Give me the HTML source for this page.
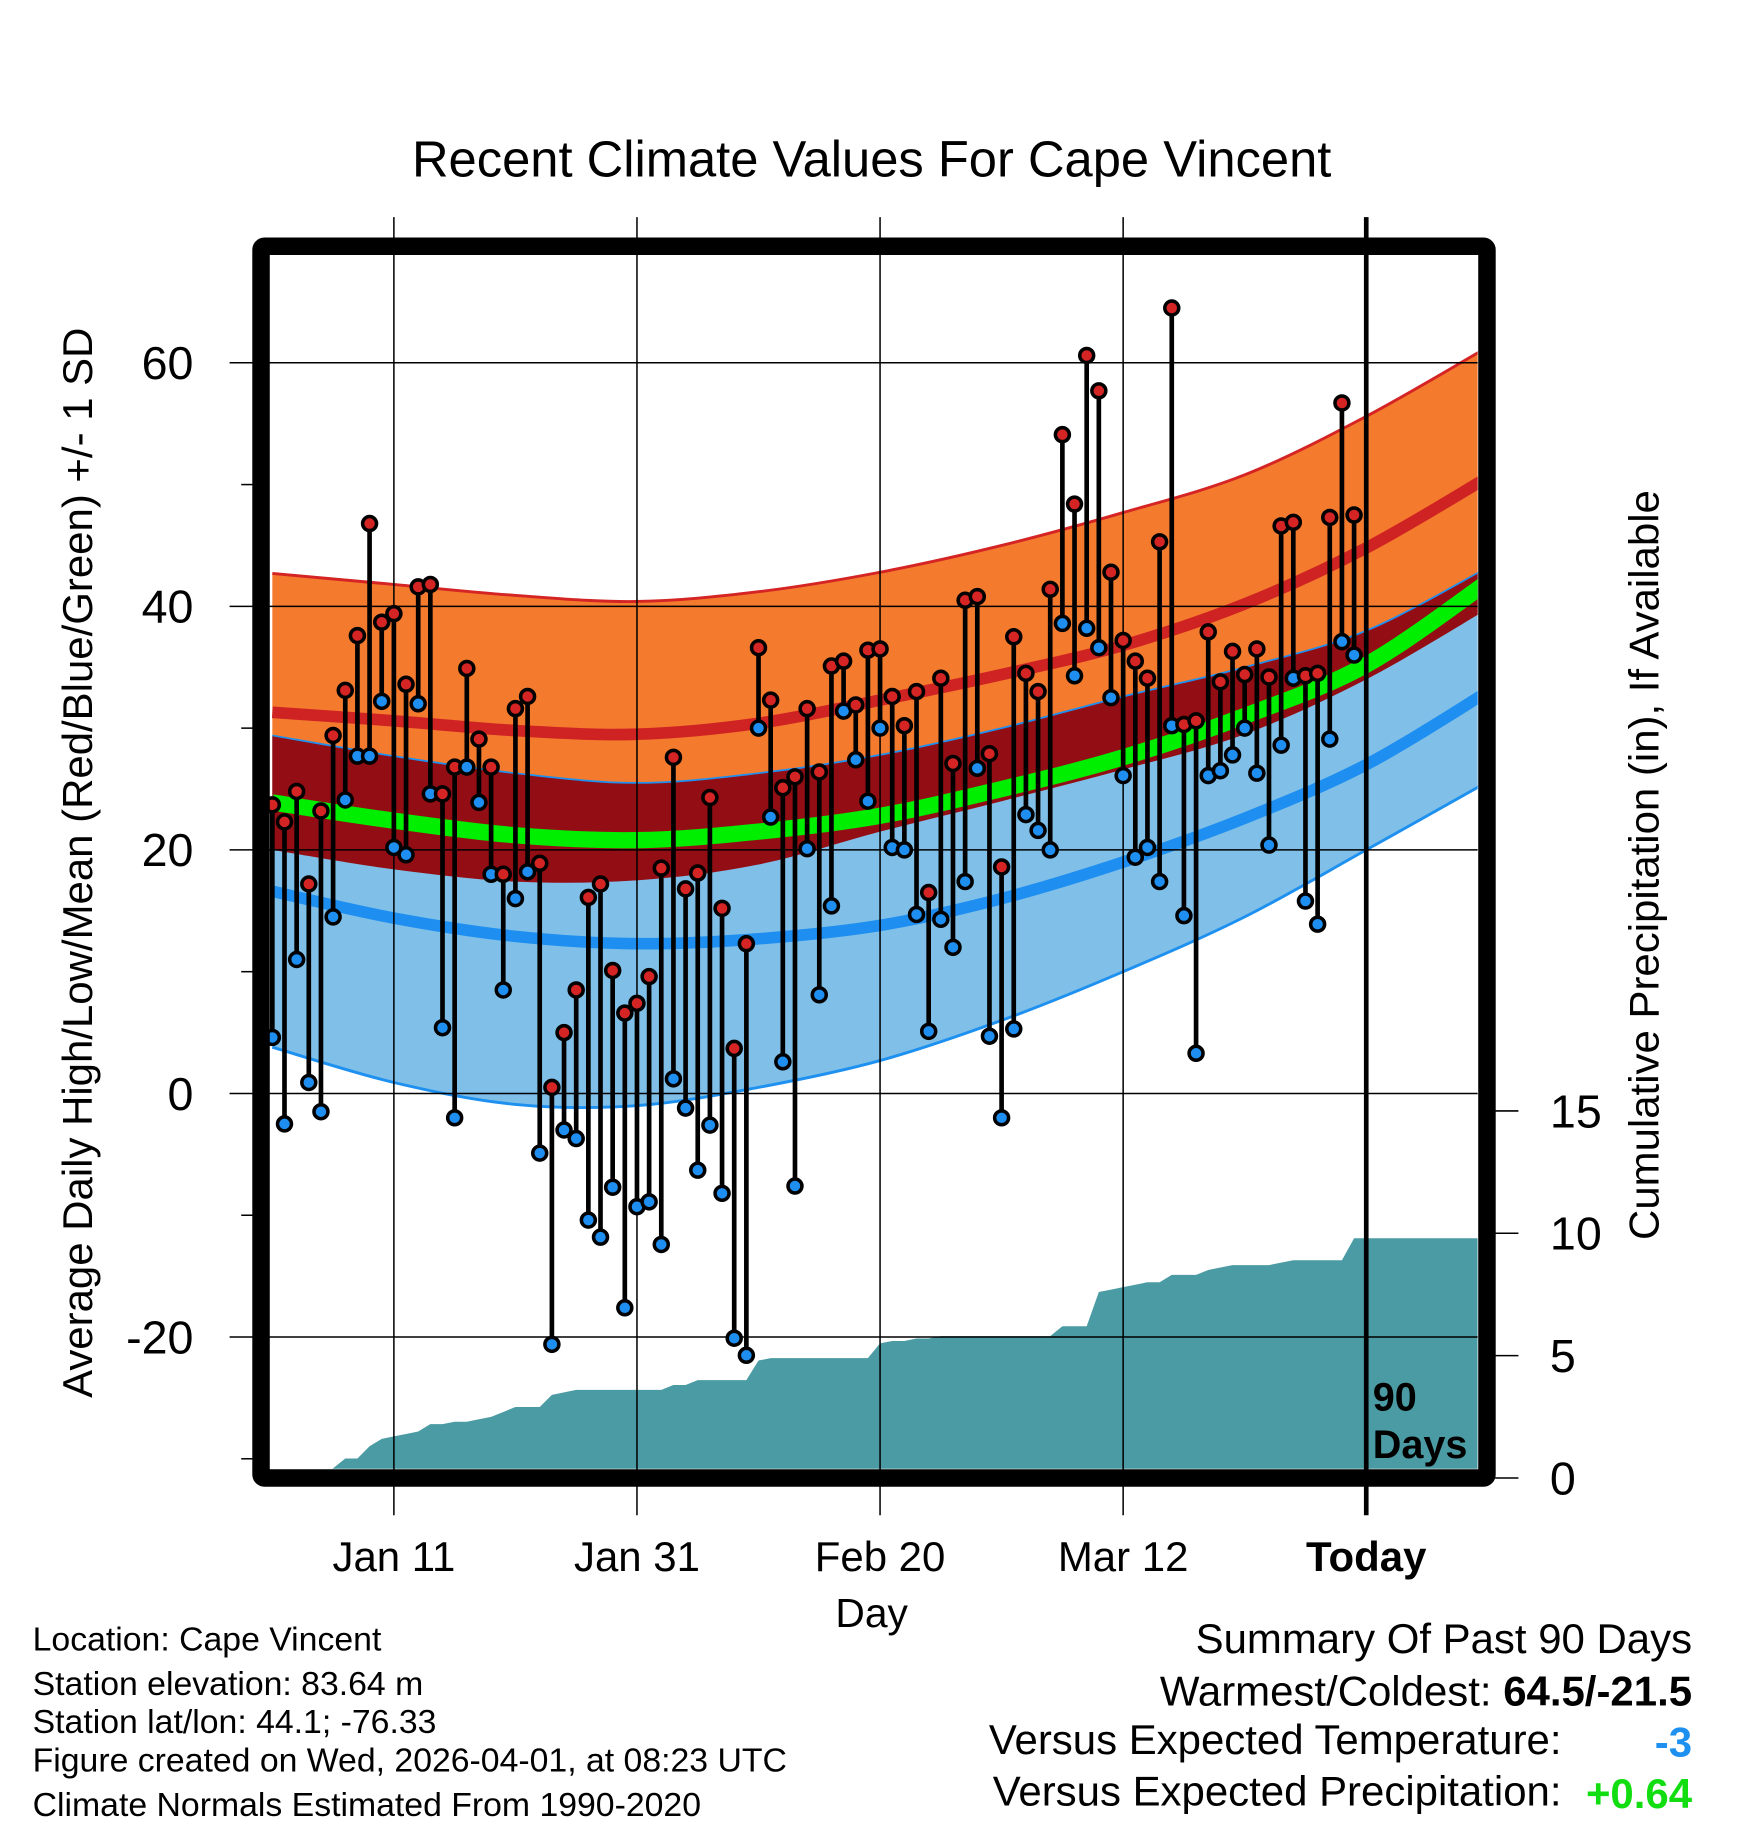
<!DOCTYPE html>
<html><head><meta charset="utf-8"><style>
html,body{margin:0;padding:0;background:#fff}
svg{display:block}
text{font-family:"Liberation Sans",sans-serif;fill:#000}
</style></head><body>
<svg id="chart" width="1748" height="1828" viewBox="0 0 1500 1568" xmlns="http://www.w3.org/2000/svg">
<text x="748" y="151" font-size="43.5" text-anchor="middle">Recent Climate Values For Cape Vincent</text>
<defs><clipPath id="plotclip"><rect x="231" y="218" width="1037" height="1042"/></clipPath></defs>
<g id="bands" clip-path="url(#plotclip)"></g>
<g id="grid"></g>
<g id="marks" clip-path="url(#plotclip)"></g>
<rect x="224" y="211" width="1052" height="1057" fill="none" stroke="#000" stroke-width="15" rx="3"/>
<g id="axes"></g>
<text transform="translate(79,740) rotate(-90)" font-size="36" text-anchor="middle">Average Daily High/Low/Mean (Red/Blue/Green) +/- 1 SD</text>
<text transform="translate(1423,742) rotate(-90)" font-size="36" text-anchor="middle">Cumulative Precipitation (in), If Available</text>
<text x="748" y="1396" font-size="35" text-anchor="middle">Day</text>
<g font-size="29">
<text x="28" y="1416">Location: Cape Vincent</text>
<text x="28" y="1454">Station elevation: 83.64 m</text>
<text x="28" y="1487">Station lat/lon: 44.1; -76.33</text>
<text x="28" y="1520">Figure created on Wed, 2026-04-01, at 08:23 UTC</text>
<text x="28" y="1558">Climate Normals Estimated From 1990-2020</text>
</g>
<g font-size="36">
<text x="1452" y="1418" text-anchor="end">Summary Of Past 90 Days</text>
<text x="1452" y="1463" text-anchor="end">Warmest/Coldest: <tspan font-weight="bold">64.5/-21.5</tspan></text>
<text x="1340" y="1505" text-anchor="end">Versus Expected Temperature:</text>
<text x="1452" y="1507" text-anchor="end" font-weight="bold" style="fill:#1e90f0">-3</text>
<text x="1340" y="1549" text-anchor="end">Versus Expected Precipitation:</text>
<text x="1452" y="1551" text-anchor="end" font-weight="bold" style="fill:#11dd11">+0.64</text>
</g>
</svg>
<script>
const highs=[23.7,22.3,24.8,17.2,23.2,29.4,33.1,37.6,46.8,38.7,39.4,33.6,41.6,41.8,24.6,26.8,34.9,29.1,26.8,18.0,31.6,32.6,18.9,0.5,5.0,8.5,16.1,17.2,10.1,6.6,7.4,9.6,18.5,27.6,16.8,18.1,24.3,15.2,3.7,12.3,36.6,32.3,25.1,26.0,31.6,26.4,35.1,35.5,31.9,36.4,36.5,32.6,30.2,33.0,16.5,34.1,27.1,40.5,40.8,27.9,18.6,37.5,34.5,33.0,41.4,54.1,48.4,60.6,57.7,42.8,37.2,35.5,34.1,45.3,64.5,30.3,30.6,37.9,33.8,36.3,34.4,36.5,34.2,46.6,46.9,34.3,34.5,47.3,56.7,47.5];
const lows=[4.6,-2.5,11.0,0.9,-1.5,14.5,24.1,27.7,27.7,32.2,20.2,19.6,32.0,24.6,5.4,-2.0,26.8,23.9,18.0,8.5,16.0,18.2,-4.9,-20.6,-3.0,-3.7,-10.4,-11.8,-7.7,-17.6,-9.3,-8.9,-12.4,1.2,-1.2,-6.3,-2.6,-8.2,-20.1,-21.5,30.0,22.7,2.6,-7.6,20.1,8.1,15.4,31.4,27.4,24.0,30.0,20.2,20.0,14.7,5.1,14.3,12.0,17.4,26.7,4.7,-2.0,5.3,22.9,21.6,20.0,38.6,34.3,38.2,36.6,32.5,26.1,19.4,20.2,17.4,30.2,14.6,3.3,26.1,26.5,27.8,30.0,26.3,20.4,28.6,34.1,15.8,13.9,29.1,37.1,36.0];
const precip=[0,0,0,0,0,0.4,0.8,0.8,1.3,1.6,1.7,1.8,1.9,2.2,2.2,2.3,2.3,2.4,2.5,2.7,2.9,2.9,2.9,3.4,3.5,3.6,3.6,3.6,3.6,3.6,3.6,3.6,3.6,3.8,3.8,4.0,4.0,4.0,4.0,4.0,4.8,4.9,4.9,4.9,4.9,4.9,4.9,4.9,4.9,4.9,5.5,5.6,5.6,5.7,5.7,5.8,5.8,5.8,5.8,5.8,5.8,5.8,5.8,5.8,5.8,6.2,6.2,6.2,7.6,7.7,7.8,7.9,8.0,8.0,8.3,8.3,8.3,8.5,8.6,8.7,8.7,8.7,8.7,8.8,8.9,8.9,8.9,8.9,8.9,9.8];
// normals at days 0,10,...,100
const normDays=[0,10,20,30,40,50,60,70,80,90,100];
const hiUp=[42.7,41.8,40.9,40.4,41.2,42.8,45.0,47.7,50.8,55.6,61.3];
const hiMean=[31.3,30.6,29.8,29.5,30.4,32.3,34.4,36.8,40.2,44.8,50.6];
const loUp=[29.4,27.7,26.3,25.5,26.3,27.8,30.0,32.6,35.0,38.0,43.2];
const meanT=[23.9,22.4,21.2,20.8,21.5,22.8,25.0,27.6,31.0,35.2,42.0];
const hiDn=[20.0,18.4,17.4,17.5,18.8,21.5,24.0,26.6,29.5,34.0,39.8];
const loMean=[16.6,14.4,12.9,12.3,12.7,13.8,16.0,19.0,22.6,27.0,33.0];
const loDn=[3.8,0.9,-0.9,-1.0,0.5,2.7,6.0,10.0,14.5,20.0,25.6];
const yTicks=[-20,0,20,40,60];
const y2Ticks=[0,5,10,15];
const xTickDays=[10,30,50,70,90];
const xTickLabels=["Jan 11","Jan 31","Feb 20","Mar 12","Today"];

const NS="http://www.w3.org/2000/svg";
const X=d=>233.7+10.43*d;
const Y=v=>938-10.45*v;
const Y2=v=>1268-21*v;
function mk(tag,attrs,parent){const e=document.createElementNS(NS,tag);for(const k in attrs)e.setAttribute(k,attrs[k]);parent.appendChild(e);return e;}
function seg(p){let s="";
  for(let i=0;i<p.length-1;i++){const p0=p[Math.max(0,i-1)],p1=p[i],p2=p[i+1],p3=p[Math.min(p.length-1,i+2)];
    s+=" C"+(p1[0]+(p2[0]-p0[0])/6)+","+(p1[1]+(p2[1]-p0[1])/6)+" "+(p2[0]-(p3[0]-p1[0])/6)+","+(p2[1]-(p3[1]-p1[1])/6)+" "+p2[0]+","+p2[1];}
  return s;}
function pts(arr){return normDays.map((d,i)=>[X(d),Y(arr[i])]);}
function curve(arr){const p=pts(arr);return "M"+p[0][0]+","+p[0][1]+seg(p);}
function revCurve(arr){const p=pts(arr).reverse();return " L"+p[0][0]+","+p[0][1]+seg(p)+" Z";}
const bands=document.getElementById('bands');
let e;
e=mk('path',{d:curve(hiUp)+revCurve(hiDn),fill:'#f47a2e'},bands);


e=mk('path',{d:curve(loUp)+revCurve(loDn),fill:'#80c0e8'},bands);


e=mk('path',{d:curve(loUp)+revCurve(hiDn),fill:'#930e14'},bands);


const lines=[[hiUp,'#d42424',2.5,'high-upper-line'],[loUp,'#1e90f0',1.5,'low-upper-line'],[loDn,'#1e90f0',2.5,'low-lower-line'],[hiMean,'#cf2222',10,'mean-high-line'],[loMean,'#1e8ff0',10,'mean-low-line'],[meanT,'#00ee00',14,'mean-temp-line']];
lines.forEach(l=>{e=mk('path',{d:curve(l[0]),fill:'none',stroke:l[1],'stroke-width':l[2]},bands);

});
let pd="M"+X(0)+","+Y2(0);
precip.forEach((v,i)=>{pd+=" L"+X(i)+","+Y2(v);});
pd+=" L1268,"+Y2(precip[precip.length-1])+" L1268,1268 L231,1268 L231,"+Y2(0)+" Z";
e=mk('path',{d:pd,fill:'#4a9ba3'},bands);


const grid=document.getElementById('grid'),axes=document.getElementById('axes');
yTicks.forEach(v=>{e=mk('line',{x1:197,x2:1268,y1:Y(v),y2:Y(v),stroke:'#000','stroke-width':1.3},grid);


e=mk('text',{x:166,y:Y(v)+14,'font-size':40,'text-anchor':'end'},axes);e.textContent=v;

});
[-30,-10,10,30,50].forEach(v=>{e=mk('line',{x1:207,x2:217,y1:Y(v),y2:Y(v),stroke:'#000','stroke-width':1.3},axes);

});
y2Ticks.forEach(v=>{e=mk('line',{x1:1283,x2:1303,y1:Y2(v),y2:Y2(v),stroke:'#000','stroke-width':1.3},axes);


e=mk('text',{x:1330,y:Y2(v)+14,'font-size':40},axes);e.textContent=v;

});
xTickDays.forEach((d,i)=>{const today=i===xTickDays.length-1;
e=mk('line',{x1:X(d),x2:X(d),y1:186,y2:1300,stroke:'#000','stroke-width':today?4:1.3},grid);


e=mk('text',{x:X(d),y:1348,'font-size':36,'text-anchor':'middle','font-weight':today?'bold':'normal'},axes);e.textContent=xTickLabels[i];

});
e=mk('text',{x:1178,y:1210,'font-size':34,'font-weight':'bold'},axes);e.textContent='90';


e=mk('text',{x:1178,y:1251,'font-size':34,'font-weight':'bold'},axes);e.textContent='Days';


const marks=document.getElementById('marks');
highs.forEach((h,i)=>{e=mk('line',{x1:X(i),x2:X(i),y1:Y(h),y2:Y(lows[i]),stroke:'#000','stroke-width':4},marks);

});
highs.forEach((h,i)=>{
e=mk('circle',{cx:X(i),cy:Y(lows[i]),r:6,fill:'#1e8ff0',stroke:'#000','stroke-width':3},marks);


e=mk('circle',{cx:X(i),cy:Y(h),r:6,fill:'#d42424',stroke:'#000','stroke-width':3},marks);

});
</script>
</body></html>
